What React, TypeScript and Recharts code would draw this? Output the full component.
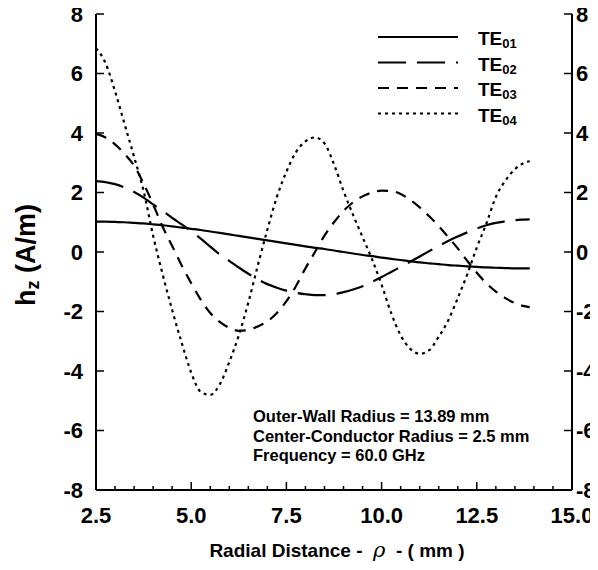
import React from 'react';
import { LineChart, Line, XAxis, YAxis, Customized } from 'recharts';

// Radial distance (mm)
const RHO = [
  2.5, 2.75, 3, 3.25, 3.5, 3.75, 4, 4.25, 4.5, 4.75,
  5, 5.25, 5.5, 5.75, 6, 6.25, 6.5, 6.75, 7, 7.25,
  7.5, 7.75, 8, 8.25, 8.5, 8.75, 9, 9.25, 9.5, 9.75,
  10, 10.25, 10.5, 10.75, 11, 11.25, 11.5, 11.75, 12, 12.25,
  12.5, 12.75, 13, 13.25, 13.5, 13.75, 13.89,
];

const TE01 = [
  1.02, 1.02, 1.01, 1.0, 0.98, 0.96, 0.93, 0.9, 0.86, 0.82,
  0.78, 0.74, 0.69, 0.64, 0.59, 0.54, 0.49, 0.44, 0.39, 0.34,
  0.29, 0.24, 0.19, 0.14, 0.1, 0.05, 0.0, -0.05, -0.1, -0.14,
  -0.19, -0.23, -0.27, -0.31, -0.35, -0.38, -0.41, -0.44, -0.46, -0.48,
  -0.5, -0.52, -0.53, -0.54, -0.55, -0.55, -0.55,
];

const TE02 = [
  2.38, 2.35, 2.28, 2.17, 2.02, 1.83, 1.6, 1.38, 1.15, 0.93,
  0.7, 0.45, 0.18, -0.08, -0.3, -0.52, -0.73, -0.92, -1.08, -1.2,
  -1.3, -1.37, -1.42, -1.45, -1.45, -1.42, -1.35, -1.26, -1.15, -1.0,
  -0.84, -0.67, -0.5, -0.33, -0.15, 0.03, 0.2, 0.37, 0.52, 0.66,
  0.79, 0.9, 0.98, 1.03, 1.07, 1.09, 1.1,
];

const TE03 = [
  3.97, 3.85, 3.62, 3.3, 2.9, 2.3, 1.6, 0.85, 0.2, -0.45,
  -1.05, -1.6, -2.05, -2.35, -2.55, -2.65, -2.62, -2.5, -2.33, -2.05,
  -1.65, -1.15, -0.55, 0.0, 0.55, 1.0, 1.38, 1.67, 1.87, 2.0,
  2.06, 2.05, 1.95, 1.75, 1.5, 1.2, 0.87, 0.5, 0.12, -0.3,
  -0.7, -1.05, -1.33, -1.55, -1.72, -1.82, -1.85,
];

const TE04 = [
  6.85, 6.35, 5.4, 4.3, 3.2, 2.05, 0.55, -0.75, -1.95, -3.05,
  -4.05, -4.7, -4.8, -4.45, -3.7, -2.8, -1.7, -0.45, 0.75, 1.85,
  2.7, 3.35, 3.72, 3.85, 3.65, 2.95, 2.05, 1.25, 0.5, -0.25,
  -1.1, -2.05, -2.8, -3.25, -3.42, -3.3, -2.85, -2.3, -1.55, -0.75,
  0.15, 0.95, 1.85, 2.4, 2.78, 3.0, 3.05,
];

const X_TICKS = [
  2.5, 3, 3.5, 4, 4.5, 5, 5.5, 6, 6.5, 7, 7.5, 8, 8.5,
  9, 9.5, 10, 10.5, 11, 11.5, 12, 12.5, 13, 13.5, 14, 14.5, 15,
];
const Y_TICKS = [-8, -6, -4, -2, 0, 2, 4, 6, 8];

const SERIES_KEYS = ['te01', 'te02', 'te03', 'te04'];
const SERIES_SUBS = ['01', '02', '03', '04'];
const SERIES_DASH = [undefined, '28 11', '11 8', '3 4'];

const NOTES = [
  'Outer-Wall Radius = 13.89 mm',
  'Center-Conductor Radius = 2.5 mm',
  'Frequency = 60.0 GHz',
];

const data = RHO.map((r, i) => ({
  rho: r,
  te01: TE01[i],
  te02: TE02[i],
  te03: TE03[i],
  te04: TE04[i],
}));

const FONT = '"Liberation Sans", Arial, Helvetica, sans-serif';
const W = 590;
const H = 554;

const XTick = (props: any) => {
  const { x, y, payload } = props;
  const v = payload.value as number;
  const major = Math.abs(v / 2.5 - Math.round(v / 2.5)) < 1e-6;
  return (
    <g>
      <line x1={x} x2={x} y1={y} y2={y - (major ? 8 : 4)} stroke="#000" strokeWidth={1.5} />
      {major && (
        <text x={x} y={y + 33} textAnchor="middle" fontSize={22} fontWeight="bold" fontFamily={FONT} fill="#000">
          {v.toFixed(1)}
        </text>
      )}
    </g>
  );
};

const YTickLeft = (props: any) => {
  const { x, y, payload } = props;
  return (
    <g>
      <line x1={x} x2={x + 8} y1={y} y2={y} stroke="#000" strokeWidth={1.5} />
      <text x={x - 13} y={y} dy="0.36em" textAnchor="end" fontSize={22} fontWeight="bold" fontFamily={FONT} fill="#000">
        {String(payload.value)}
      </text>
    </g>
  );
};

const YTickRight = (props: any) => {
  const { x, y, payload } = props;
  return (
    <g>
      <line x1={x} x2={x - 8} y1={y} y2={y} stroke="#000" strokeWidth={1.5} />
      <text x={x + 4} y={y} dy="0.36em" textAnchor="start" fontSize={22} fontWeight="bold" fontFamily={FONT} fill="#000">
        {String(payload.value)}
      </text>
    </g>
  );
};

const Decorations = () => (
  <g fontFamily={FONT} fill="#000">
    {SERIES_KEYS.map((k, i) => {
      const yy = 29 + i * 25.5;
      return (
        <g key={k}>
          <line x1={370} x2={450} y1={yy} y2={yy} stroke="#000" strokeWidth={2.2} strokeDasharray={SERIES_DASH[i]} />
          <text x={470} y={yy + 8} fontSize={19} fontWeight="bold">
            TE<tspan fontSize={13} dy={3}>{SERIES_SUBS[i]}</tspan>
          </text>
        </g>
      );
    })}
    {NOTES.map((t, i) => (
      <text key={t} x={245} y={414 + i * 19.5} fontSize={16.5} fontWeight="bold">
        {t}
      </text>
    ))}
    <text transform="translate(27,247) rotate(-90)" textAnchor="middle" fontSize={27} fontWeight="bold">
      h<tspan fontSize={18} dy={4}>z</tspan>
      <tspan dy={-4}>{' (A/m)'}</tspan>
    </text>
    <text x={329} y={549} textAnchor="middle" fontSize={19} fontWeight="bold" style={{ whiteSpace: 'pre' }}>
      {'Radial Distance -  '}
      <tspan fontFamily='"DejaVu Serif", serif' fontStyle="italic" fontWeight="normal" fontSize={21}>ρ</tspan>
      {'  - ( mm )'}
    </text>
  </g>
);

export default function App() {
  return (
    <div style={{ width: W, height: H }}>
      <style>{'svg.recharts-surface { overflow: visible; }'}</style>
      <LineChart width={W} height={H} data={data} margin={{ top: 6, right: 0, bottom: 0, left: 0 }}>
        <XAxis
          dataKey="rho"
          type="number"
          domain={[2.5, 15]}
          ticks={X_TICKS}
          interval={0}
          allowDataOverflow
          height={72}
          tickLine={false}
          tickSize={0}
          tickMargin={0}
          axisLine={{ stroke: '#000', strokeWidth: 2 }}
          tick={(p: any) => <XTick {...p} />}
        />
        <YAxis
          yAxisId="left"
          type="number"
          domain={[-8, 8]}
          ticks={Y_TICKS}
          interval={0}
          allowDataOverflow
          width={88}
          tickLine={false}
          tickSize={0}
          tickMargin={0}
          axisLine={{ stroke: '#000', strokeWidth: 2 }}
          tick={(p: any) => <YTickLeft {...p} />}
        />
        <YAxis
          yAxisId="right"
          orientation="right"
          type="number"
          domain={[-8, 8]}
          ticks={Y_TICKS}
          interval={0}
          allowDataOverflow
          width={26}
          tickLine={false}
          tickSize={0}
          tickMargin={0}
          axisLine={{ stroke: '#000', strokeWidth: 2 }}
          tick={(p: any) => <YTickRight {...p} />}
        />
        {SERIES_KEYS.map((k, i) => (
          <Line
            key={k}
            yAxisId="left"
            dataKey={k}
            type="monotone"
            stroke="#000"
            strokeWidth={2.2}
            strokeDasharray={SERIES_DASH[i]}
            dot={false}
            activeDot={false}
            isAnimationActive={false}
          />
        ))}
        <Customized component={Decorations} />
      </LineChart>
    </div>
  );
}
